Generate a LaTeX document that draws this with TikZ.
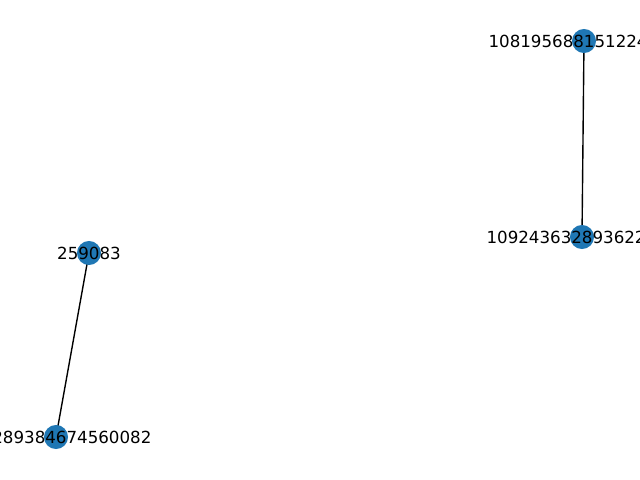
\documentclass[tikz,border=0pt]{standalone}
\usepackage{fontspec}
\setmainfont{DejaVu Sans}
\definecolor{dotblue}{HTML}{1F77B4}
\begin{document}
\begin{tikzpicture}[x=0.72pt, y=-0.72pt]
		\tikzset{
			id dot/.style = {circle, fill=dotblue, inner sep=0pt, minimum size=17.3pt},
			id text/.style = {inner sep=0pt, font=\fontsize{12}{14}\selectfont},
			id edge/.style = {line width=1pt, black}
		}

		\path[use as bounding box, clip] (0,0) rectangle (640,480);

		\coordinate (u1) at (89,253);
		\coordinate (u2) at (56,437);
		\coordinate (v1) at (584,41);
		\coordinate (v2) at (582,237);

		\draw[id edge] (u1) -- (u2);
		\draw[id edge] (v1) -- (v2);

		\node[id dot] at (u1) {};
		\node[id dot] at (u2) {};
		\node[id dot] at (v1) {};
		\node[id dot] at (v2) {};

		\node[id text] at (u1) {259083};
		\node[id text] at (u2) {106289384674560082};
		\node[id text] at (v1) {108195688151224320};
		\node[id text] at (v2) {109243632893622272};
	\end{tikzpicture}
\end{document}
